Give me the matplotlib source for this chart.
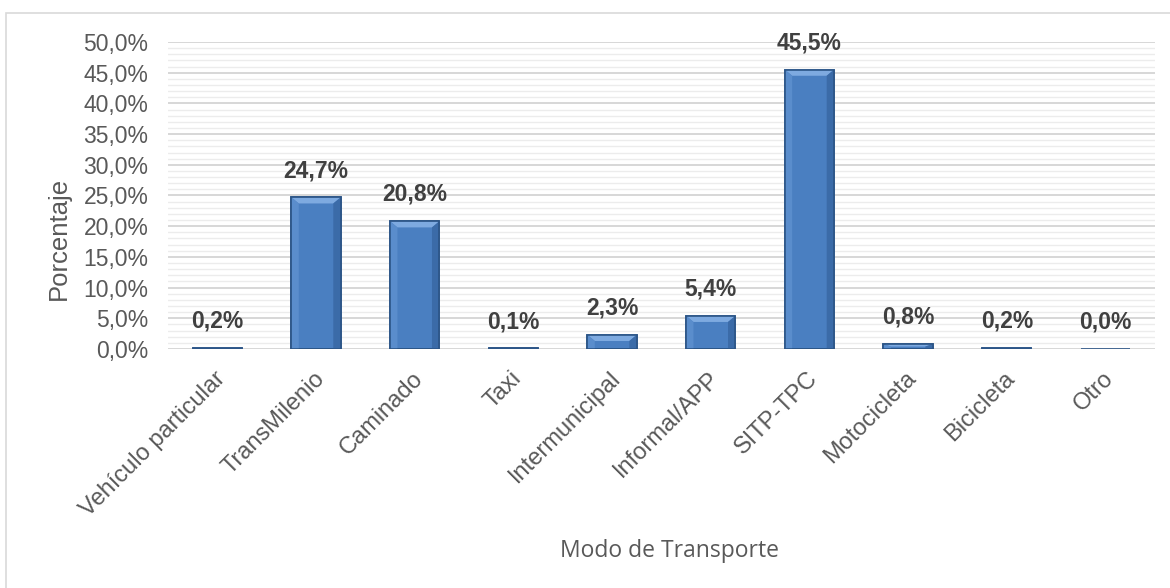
import numpy as np
import matplotlib.pyplot as plt
import matplotlib.transforms as mtransforms
from matplotlib.patches import Rectangle, Polygon
from matplotlib.ticker import MultipleLocator, FuncFormatter

# Modo de transporte - porcentaje de viajes
modos = ['Vehículo particular', 'TransMilenio', 'Caminado', 'Taxi',
         'Intermunicipal', 'Informal/APP', 'SITP-TPC', 'Motocicleta',
         'Bicicleta', 'Otro']
porcentajes = [0.2, 24.7, 20.8, 0.1, 2.3, 5.4, 45.5, 0.8, 0.2, 0.0]

plt.rcParams['font.family'] = ['Liberation Sans', 'DejaVu Sans']
gris = '#595959'

fig = plt.figure(figsize=(11.7, 5.88), dpi=100)
ax = fig.add_axes([0.1436, 0.4065, 0.8434, 0.5221])

# outer chart border (cut at the right and bottom in the original)
fig.patches.append(Rectangle((0.005, -0.05), 1.2, 0.978 + 0.05,
                             transform=fig.transFigure, fill=False,
                             edgecolor='#d9d9d9', linewidth=1.2))

x = np.arange(len(modos))
ancho = 0.5
bars = ax.bar(x, porcentajes, width=ancho, color='#4a7fc1',
              edgecolor='#2c5587', linewidth=1.2, zorder=3)

# bevel effect: light top, lighter left, darker right
bx = 0.075   # bevel width in data units (x)
by = 1.0     # bevel height in data units (y)
for b in bars:
    h = b.get_height()
    if h <= 0:
        continue
    x0 = b.get_x()
    x1 = x0 + b.get_width()
    d = min(by, h / 2)
    top = Polygon([(x0, h), (x1, h), (x1 - bx, h - d), (x0 + bx, h - d)],
                  closed=True, facecolor='#7eaae0', edgecolor='none', zorder=3.5)
    left = Polygon([(x0, 0), (x0, h), (x0 + bx, h - d), (x0 + bx, 0)],
                   closed=True, facecolor='#5a8dcc', edgecolor='none', zorder=3.5)
    right = Polygon([(x1, 0), (x1, h), (x1 - bx, h - d), (x1 - bx, 0)],
                    closed=True, facecolor='#3b6ba8', edgecolor='none', zorder=3.5)
    for p in (top, left, right):
        ax.add_patch(p)
    ax.add_patch(Rectangle((x0, 0), b.get_width(), h, fill=False,
                           edgecolor='#2c5587', linewidth=1.2, zorder=3.6))

for xi, v in zip(x, porcentajes):
    ax.annotate(f'{v:.1f}%'.replace('.', ','), (xi, v), xytext=(0, 11),
                textcoords='offset points', ha='center', va='bottom',
                fontsize=16.5, fontweight='bold', color='#404040', zorder=5)

ax.set_xlim(-0.5, len(modos) - 0.5)
ax.set_ylim(0, 50)
ax.yaxis.set_major_locator(MultipleLocator(5))
ax.yaxis.set_minor_locator(MultipleLocator(1))
ax.yaxis.set_major_formatter(FuncFormatter(lambda v, p: f'{v:.1f}%'.replace('.', ',')))
ax.grid(axis='y', which='major', color='#d4d4d4', linewidth=1.3, zorder=0)
ax.grid(axis='y', which='minor', color='#ececec', linewidth=1.0, zorder=0)
ax.set_axisbelow(True)

for s in ax.spines.values():
    s.set_visible(False)
ax.tick_params(axis='both', which='both', length=0)
ax.tick_params(axis='y', labelsize=16.5, labelcolor=gris, pad=14)

ax.set_xticks(x)
ax.set_xticklabels(modos, rotation=45, ha='right', va='center',
                   rotation_mode='anchor', fontsize=17, color=gris)
ax.tick_params(axis='x', pad=19)
desplaza = mtransforms.ScaledTranslation(5 / 100, 0, fig.dpi_scale_trans)
for lbl in ax.get_xticklabels():
    lbl.set_transform(lbl.get_transform() + desplaza)

fig.text(59 / 1170, 1 - 238 / 588, 'Porcentaje', rotation=90, ha='center',
         va='center', fontsize=18.5, color=gris)
fig.text(670 / 1170, 1 - 551 / 588, 'Modo de Transporte', ha='center',
         va='center', fontsize=16.5, color=gris,
         family=['Open Sans', 'DejaVu Sans'])

fig.savefig('out.png', dpi=100, facecolor='white')
